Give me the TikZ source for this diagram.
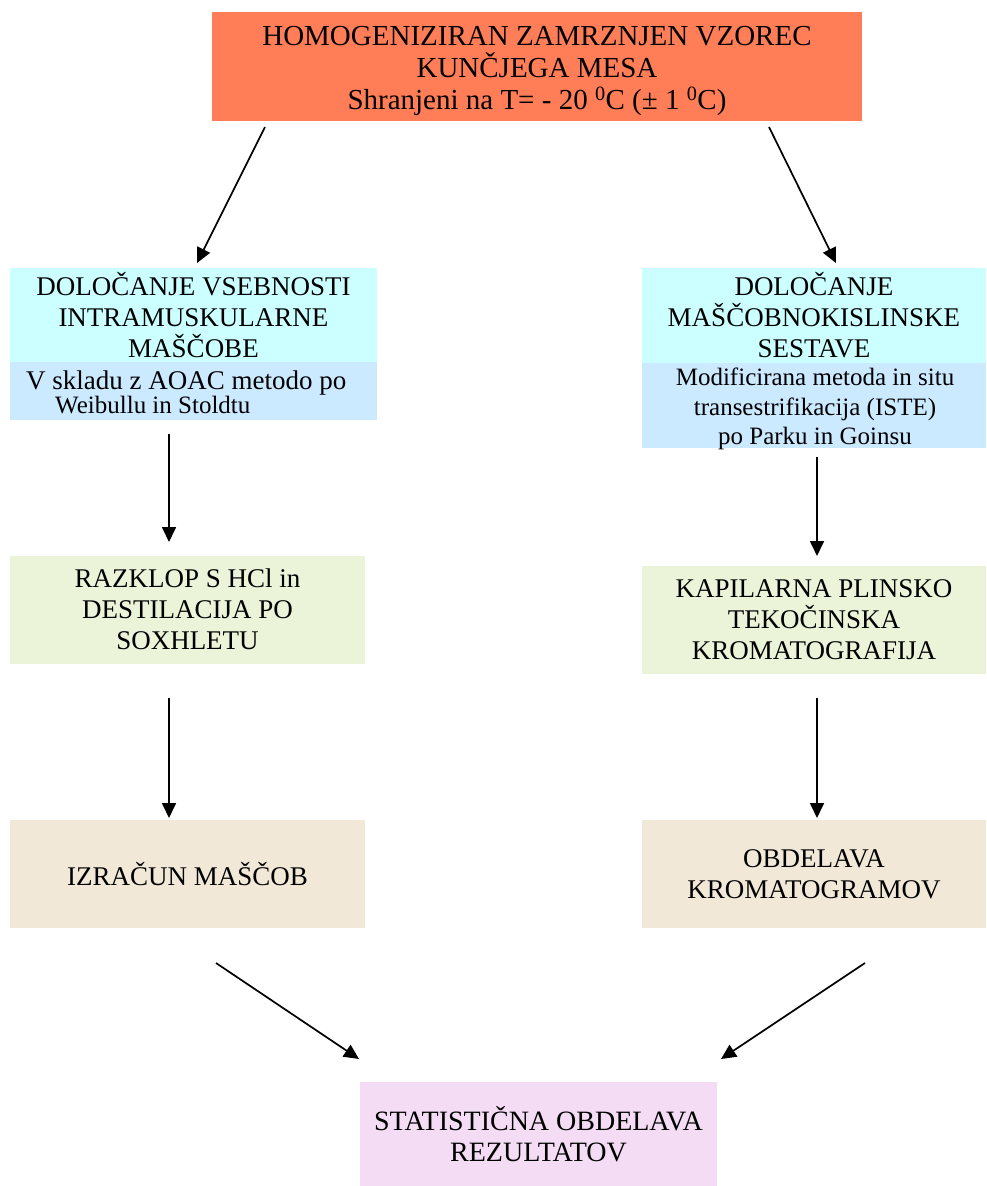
\documentclass[tikz,border=0pt]{standalone}
\usepackage{fontspec}
\setmainfont{Liberation Serif}
\usetikzlibrary{arrows.meta}
\definecolor{coral}{HTML}{FF7D57}
\definecolor{cyanc}{HTML}{CCFFFF}
\definecolor{bluec}{HTML}{CCEAFF}
\definecolor{greenc}{HTML}{EBF4D8}
\definecolor{beigec}{HTML}{F2E8D7}
\definecolor{pinkc}{HTML}{F5DCF5}
\tikzset{
  box/.style={rectangle, draw=none, inner sep=0pt, align=center,
    font=\fontsize{27}{31}\selectfont},
  txt/.style={inner sep=0pt, align=center, font=\fontsize{27}{31}\selectfont},
  arr/.style={line width=1.7pt, -{Triangle[length=15pt,width=14pt]}}
}
\begin{document}
\begin{tikzpicture}[x=1pt,y=-1pt]
\useasboundingbox (0,0) rectangle (987,1186);
% top
\node[box, fill=coral, minimum width=650, minimum height=109] (top) at (537,66.5) {};
\node[txt, font=\fontsize{29}{32}\selectfont] (topt) at (537,71)
  {HOMOGENIZIRAN ZAMRZNJEN VZOREC\\KUNČJEGA MESA\\Shranjeni na T= - 20 \textsuperscript{0}C (± 1 \textsuperscript{0}C)};
% left column
\node[box, fill=cyanc, minimum width=367, minimum height=94] (l1) at (193.5,315)
  {DOLOČANJE VSEBNOSTI\\INTRAMUSKULARNE\\MAŠČOBE};
\node[box, fill=bluec, minimum width=367, minimum height=58, anchor=north] (l1b) at (l1.south) {};
\node[txt, anchor=base west] (l1t1) at (26,389) {V skladu z AOAC metodo po};
\node[txt, anchor=base west, font=\fontsize{25}{29}\selectfont] (l1t2) at (55,413) {Weibullu in Stoldtu};
\node[box, fill=greenc, minimum width=355, minimum height=108] (l2) at (187.5,609.5)
  {RAZKLOP S HCl in\\DESTILACIJA PO\\SOXHLETU};
\node[box, fill=beigec, minimum width=355, minimum height=108] (l3) at (187.5,874)
  {IZRAČUN MAŠČOB};
% right column
\node[box, fill=cyanc, minimum width=344, minimum height=95] (r1) at (814,315.5)
  {DOLOČANJE\\MAŠČOBNOKISLINSKE\\SESTAVE};
\node[box, fill=bluec, minimum width=344, minimum height=85, anchor=north] (r1b) at (r1.south) {};
\node[txt, font=\fontsize{25}{29.5}\selectfont] (r1t) at (815,409)
  {Modificirana metoda in situ\\transestrifikacija (ISTE)\\po Parku in Goinsu};
\node[box, fill=greenc, minimum width=344, minimum height=108] (r2) at (814,620)
  {KAPILARNA PLINSKO\\TEKOČINSKA\\KROMATOGRAFIJA};
\node[box, fill=beigec, minimum width=344, minimum height=108] (r3) at (814,874)
  {OBDELAVA\\KROMATOGRAMOV};
% bottom
\node[box, fill=pinkc, minimum width=357, minimum height=104,
  font=\fontsize{28}{31}\selectfont] (bot) at (538.5,1134)
  {STATISTIČNA OBDELAVA\\REZULTATOV};
% arrow ends
\coordinate (a1s) at (265,127); \coordinate (a1e) at (197,263);
\coordinate (a2s) at (769,127); \coordinate (a2e) at (836,263);
\coordinate (a3s) at (169,434); \coordinate (a3e) at (169,542);
\coordinate (a4s) at (817,457); \coordinate (a4e) at (817,556);
\coordinate (a5s) at (169,698); \coordinate (a5e) at (169,818);
\coordinate (a6s) at (817,698); \coordinate (a6e) at (817,818);
\coordinate (a7s) at (216,963); \coordinate (a7e) at (359,1059);
\coordinate (a8s) at (865,963); \coordinate (a8e) at (721,1059);
\draw[arr] (a1s) -- (a1e);
\draw[arr] (a2s) -- (a2e);
\draw[arr] (a3s) -- (a3e);
\draw[arr] (a4s) -- (a4e);
\draw[arr] (a5s) -- (a5e);
\draw[arr] (a6s) -- (a6e);
\draw[arr] (a7s) -- (a7e);
\draw[arr] (a8s) -- (a8e);
\end{tikzpicture}
\end{document}
